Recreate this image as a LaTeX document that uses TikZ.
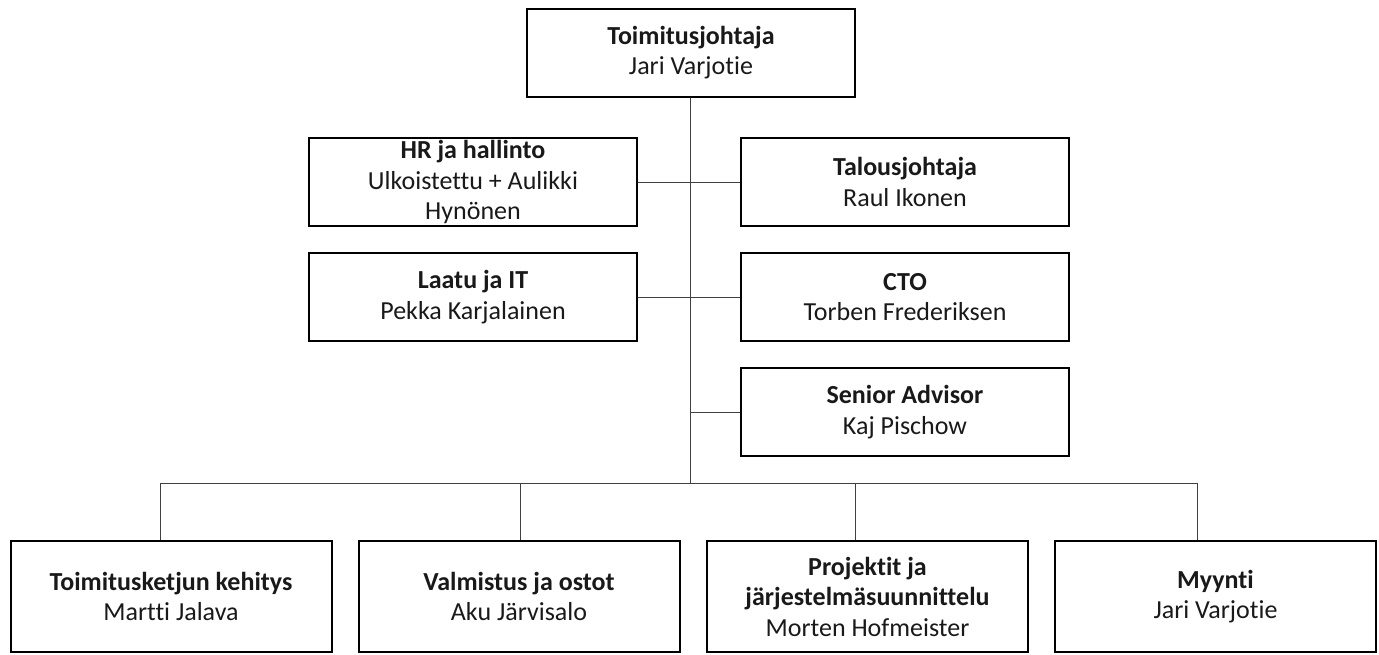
\documentclass[tikz,border=0pt]{standalone}
\usepackage{fontspec}
\setmainfont{Carlito}[Ligatures={NoCommon}]
\begin{document}
\begin{tikzpicture}[x=1pt,y=-1pt,
  box/.style={draw=black,line width=2pt,rectangle,align=center,inner sep=1pt,
    font=\fontsize{26}{30.5}\selectfont,text=black!90,
    execute at begin node={\rule{0pt}{24pt}}},
  mid/.style={box,minimum width=328pt,minimum height=88pt},
  low/.style={box,minimum width=321pt,minimum height=111pt},
  link/.style={draw=black!75,line width=1pt}]
\useasboundingbox (0,0) rectangle (1379,654);
\node[mid] (top) at (691,52.5) {\textbf{Toimitusjohtaja}\\Jari Varjotie};
\node[mid] (hr) at (473,182) {\textbf{HR ja hallinto}\\Ulkoistettu + Aulikki\\Hynönen};
\node[mid] (tal) at (905,182) {\textbf{Talousjohtaja}\\Raul Ikonen};
\node[mid] (laa) at (473,297) {\textbf{Laatu ja IT}\\Pekka Karjalainen};
\node[mid] (cto) at (905,297) {\textbf{CTO}\\Torben Frederiksen};
\node[mid] (sen) at (905,412) {\textbf{Senior Advisor}\\Kaj Pischow};
\node[low] (b1) at (171,596.5) {\textbf{Toimitusketjun kehitys}\\Martti Jalava};
\node[low] (b2) at (519,596.5) {\textbf{Valmistus ja ostot}\\Aku Järvisalo};
\node[low] (b3) at (867.5,596.5) {\textbf{Projektit ja}\\\textbf{järjestelmäsuunnittelu}\\Morten Hofmeister};
\node[low] (b4) at (1215.5,596.5) {\textbf{Myynti}\\Jari Varjotie};
\coordinate (bus) at (690,483);
\coordinate (d1) at (160,483);
\coordinate (d2) at (520,483);
\coordinate (d3) at (855,483);
\coordinate (d4) at (1197,483);
\draw[link] (top.south -| bus) -- (bus);
\draw[link] (hr.east) -- (tal.west);
\draw[link] (laa.east) -- (cto.west);
\draw[link] (sen.west -| bus) -- (sen.west);
\draw[link] (d1) -- (d4);
\draw[link] (d1) -- (d1 |- b1.north);
\draw[link] (d2) -- (d2 |- b2.north);
\draw[link] (d3) -- (d3 |- b3.north);
\draw[link] (d4) -- (d4 |- b4.north);
\end{tikzpicture}
\end{document}
